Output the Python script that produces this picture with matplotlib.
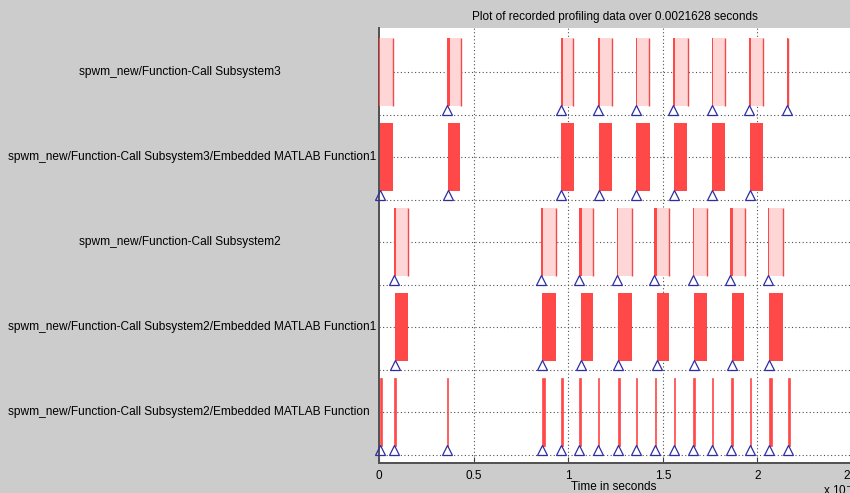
import matplotlib
matplotlib.use("Agg")
import matplotlib.pyplot as plt

# ---------------- data (times in ms, i.e. x 10^-3 s) ----------------
row_labels = [
    "spwm_new/Function-Call Subsystem3",
    "spwm_new/Function-Call Subsystem3/Embedded MATLAB Function1",
    "spwm_new/Function-Call Subsystem2",
    "spwm_new/Function-Call Subsystem2/Embedded MATLAB Function1",
    "spwm_new/Function-Call Subsystem2/Embedded MATLAB Function",
]
title_text = "Plot of recorded profiling data over 0.0021628 seconds"
xlabel_text = "Time in seconds"
x_ticks = [0, 0.5, 1, 1.5, 2, 2.5]
x_ticklabels = ["0", "0.5", "1", "1.5", "2", "2.5"]

# Row 1: Function-Call Subsystem3 (light bars)
sub3_start = [0.000, 0.358, 0.961, 1.157, 1.358, 1.553, 1.760, 1.955, 2.156]
sub3_dur = [0.074, 0.074, 0.066, 0.074, 0.069, 0.079, 0.069, 0.074, 0.007]
sub3_child = [0.004, 0.016, 0.010, 0.010, 0.008, 0.012, 0.007, 0.014, 0.007]
sub3_marks = [0.358, 0.961, 1.157, 1.358, 1.553, 1.760, 1.955, 2.156]

# Row 2: Subsystem3/Embedded MATLAB Function1 (solid bars)
emf3_start = [0.004, 0.363, 0.961, 1.162, 1.358, 1.559, 1.760, 1.961]
emf3_dur = [0.069, 0.063, 0.069, 0.069, 0.074, 0.069, 0.069, 0.069]

# Row 3: Function-Call Subsystem2 (light bars)
sub2_start = [0.077, 0.856, 1.057, 1.257, 1.453, 1.660, 1.855, 2.056]
sub2_dur = [0.074, 0.079, 0.074, 0.079, 0.079, 0.074, 0.079, 0.079]
sub2_child = [0.010, 0.010, 0.015, 0.005, 0.015, 0.005, 0.015, 0.005]

# Row 4: Subsystem2/Embedded MATLAB Function1 (solid bars)
emf21_start = [0.082, 0.861, 1.067, 1.263, 1.468, 1.664, 1.865, 2.062]
emf21_dur = [0.069, 0.074, 0.063, 0.074, 0.063, 0.069, 0.063, 0.074]

# Row 5: Subsystem2/Embedded MATLAB Function (very short calls)
emf2_start = [0.004, 0.078, 0.358, 0.861, 0.961, 1.056, 1.157, 1.263, 1.358,
              1.458, 1.559, 1.660, 1.760, 1.861, 1.961, 2.062, 2.163]
emf2_dur = [0.010, 0.010, 0.008, 0.016, 0.010, 0.010, 0.008, 0.013, 0.008,
            0.008, 0.005, 0.013, 0.008, 0.008, 0.005, 0.016, 0.010]

# ---------------- style ----------------
BG = "#cccccc"
RED = "#ff4848"
PINK = "#ffd6d6"
EDGE = "#ec4c4c"
TRI = "#2e2ea0"
FONT = "Liberation Sans"
FS = 8.5
FS_LAB = 8.6
W, H = 850, 493

plt.rcParams["font.family"] = [FONT, "DejaVu Sans"]

fig = plt.figure(figsize=(W / 100, H / 100), dpi=100, facecolor=BG)
ax_left, ax_right, ax_top, ax_bot = 379.3, 851.8, 28, 463
ax = fig.add_axes([ax_left / W, 1 - ax_bot / H, (ax_right - ax_left) / W, (ax_bot - ax_top) / H])
ax.set_facecolor("white")

BAR_H = 0.8
TRI_OFF = 0.45

def light_row(y, starts, durs, childs):
    ax.barh([y] * len(starts), durs, left=starts, height=BAR_H, color=PINK, linewidth=0, zorder=2)
    ax.barh([y] * len(starts), childs, left=starts, height=BAR_H, color=RED, linewidth=0, zorder=3)
    ends = [s + d for s, d in zip(starts, durs)]
    ax.vlines(ends, y - BAR_H / 2, y + BAR_H / 2, colors=EDGE, linewidth=1.0, zorder=3)

def solid_row(y, starts, durs, edge=0.0):
    ax.barh([y] * len(starts), durs, left=starts, height=BAR_H, color=RED,
            edgecolor=RED, linewidth=edge, zorder=2)

def marks(y, xs):
    ax.plot(xs, [y + TRI_OFF] * len(xs), linestyle="none", marker="^", markersize=7,
            markerfacecolor="none", markeredgecolor=TRI, markeredgewidth=0.9, zorder=5,
            clip_on=False)

light_row(1, sub3_start, sub3_dur, sub3_child)
marks(1, sub3_marks)
solid_row(2, emf3_start, emf3_dur)
marks(2, emf3_start)
light_row(3, sub2_start, sub2_dur, sub2_child)
marks(3, sub2_start)
solid_row(4, emf21_start, emf21_dur)
marks(4, emf21_start)
solid_row(5, emf2_start, emf2_dur, edge=0.5)
marks(5, emf2_start)

ax.set_xlim(0, 2.5)
ax.set_ylim(5.6, 0.48)

# grid
ax.set_axisbelow(True)
for gx in [0.5, 1.0, 1.5, 2.0]:
    ax.axvline(gx, color="#505050", linestyle=(0, (1, 2.2)), linewidth=0.8, zorder=0)
for gy in [1, 1.5, 2, 2.5, 3, 3.5, 4, 4.5, 5, 5.5]:
    ax.axhline(gy, color="#505050", linestyle=(0, (1, 2.2)), linewidth=0.8, zorder=0)

ax.set_xticks(x_ticks)
ax.set_xticklabels(x_ticklabels, fontsize=FS)
ax.tick_params(axis="x", direction="in", length=4, width=0.8, color="#404040", pad=5)
ax.set_yticks([])
for side in ["top", "right"]:
    ax.spines[side].set_visible(False)
for side in ["left", "bottom"]:
    ax.spines[side].set_color("#505050")
    ax.spines[side].set_linewidth(1.4)

# row labels in the grey margin
fig.canvas.draw()
renderer = fig.canvas.get_renderer()
for i, lab in enumerate(row_labels):
    y_px = ax.transData.transform((0, i + 1))[1]
    t = fig.text(180 / W, y_px / H, lab, ha="center", va="center", fontsize=FS_LAB, color="black")
    bb = t.get_window_extent(renderer)
    if bb.x0 < 8:
        t.set_ha("left")
        t.set_x(8 / W)

fig.text(615 / W, 1 - 17 / H, title_text, ha="center", va="center", fontsize=FS)
fig.text(614 / W, 1 - 487 / H, xlabel_text, ha="center", va="center", fontsize=FS)
fig.text(823 / W, 1 - 482 / H, r"x 10$^{-3}$", ha="left", va="top", fontsize=FS)

fig.savefig("out.png", dpi=100, facecolor=BG)
